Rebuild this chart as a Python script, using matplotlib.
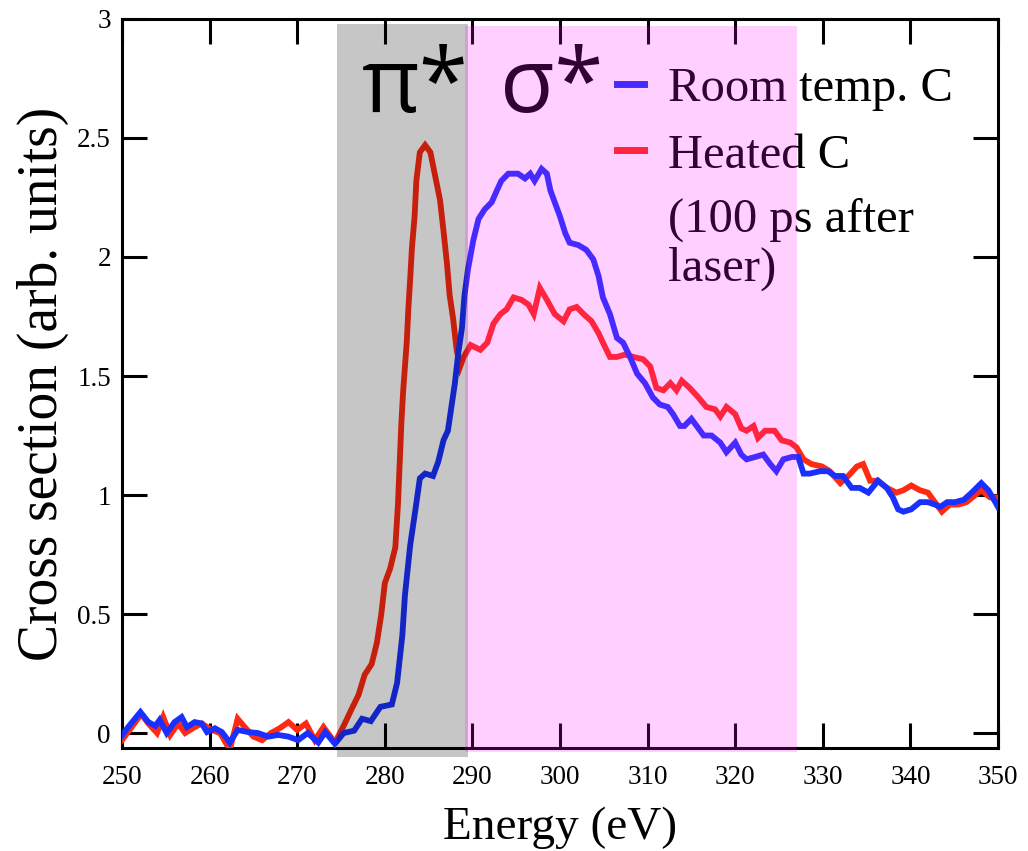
import numpy as np
import matplotlib.pyplot as plt
from matplotlib.patches import Rectangle
from matplotlib.ticker import FuncFormatter

# spectra (energy in eV, cross section in arb. units)
room_e = [250.0, 250.7, 252.1, 253.0, 253.8, 254.3, 255.1, 256.0, 256.8, 257.4,
          258.3, 259.1, 259.7, 260.6, 261.4, 262.3, 263.2, 264.4, 265.5, 266.7,
          267.8, 269.0, 270.1, 271.2, 272.4, 273.2, 274.3, 275.3, 276.5, 277.4,
          278.4, 279.5, 280.8, 281.4, 282.0, 282.3, 282.9, 283.5, 284.0, 284.6,
          285.5, 286.1, 286.7, 287.2, 287.6, 288.0, 288.4, 288.8, 289.1, 289.5,
          290.1, 290.7, 291.4, 292.2, 292.8, 293.3, 294.1, 295.2, 296.0, 296.6,
          297.1, 297.9, 298.5, 298.9, 299.4, 300.0, 300.6, 301.1, 302.1, 303.0,
          303.8, 304.4, 304.9, 305.7, 306.5, 307.2, 308.0, 308.8, 309.7, 310.6,
          311.4, 312.3, 312.9, 313.7, 314.2, 315.0, 315.8, 316.4, 317.3, 318.3,
          319.0, 320.0, 320.7, 321.3, 322.3, 323.2, 324.0, 324.7, 325.5, 326.5,
          327.2, 327.8, 328.5, 329.7, 330.6, 331.4, 332.3, 333.3, 334.2, 335.2,
          336.3, 337.3, 338.0, 338.6, 339.2, 340.1, 341.1, 342.0, 342.8, 343.4,
          344.2, 345.1, 346.1, 347.0, 348.1, 348.9, 349.7, 350.0]
room_val = [-0.01, 0.025, 0.088, 0.046, 0.03, 0.055, 0.0, 0.046, 0.067, 0.025,
            0.046, 0.04, 0.004, 0.02, 0.004, -0.04, 0.013, 0.004, 0.0, -0.015,
            -0.008, -0.015, -0.03, 0.0, -0.04, 0.004, -0.045, 0.0, 0.01, 0.06,
            0.05, 0.11, 0.12, 0.21, 0.41, 0.58, 0.79, 0.94, 1.07, 1.09,
            1.08, 1.14, 1.23, 1.27, 1.37, 1.47, 1.60, 1.70, 1.84, 1.95,
            2.07, 2.16, 2.20, 2.23, 2.28, 2.32, 2.35, 2.35, 2.33, 2.35,
            2.32, 2.37, 2.35, 2.28, 2.23, 2.17, 2.10, 2.06, 2.05, 2.03,
            1.99, 1.92, 1.83, 1.76, 1.66, 1.64, 1.58, 1.51, 1.47, 1.41,
            1.38, 1.37, 1.34, 1.29, 1.29, 1.32, 1.28, 1.25, 1.25, 1.22,
            1.18, 1.22, 1.17, 1.15, 1.16, 1.17, 1.13, 1.10, 1.15, 1.16,
            1.16, 1.09, 1.09, 1.10, 1.10, 1.08, 1.08, 1.03, 1.03, 1.01,
            1.06, 1.03, 0.99, 0.94, 0.93, 0.94, 0.97, 0.97, 0.96, 0.95,
            0.97, 0.97, 0.98, 1.01, 1.05, 1.02, 0.97, 0.95]

heated_e = [250.0, 251.0, 252.2, 253.0, 254.0, 254.7, 255.5, 256.4, 257.2, 258.3,
            259.1, 260.2, 261.2, 262.3, 263.2, 264.0, 265.0, 266.0, 267.0, 268.0,
            269.0, 270.0, 271.0, 272.0, 273.0, 274.3, 275.3, 276.2, 277.0, 277.7,
            278.5, 279.1, 279.6, 280.0, 280.6, 281.2, 281.5, 281.7, 281.9, 282.1,
            282.5, 282.7, 282.9, 283.1, 283.4, 283.6, 284.0, 284.6, 285.2, 285.7,
            286.3, 286.7, 287.1, 287.4, 287.8, 288.2, 288.6, 289.0, 289.8, 290.9,
            291.7, 292.4, 293.2, 293.9, 294.7, 295.6, 296.4, 297.0, 297.7, 298.5,
            299.4, 300.4, 301.1, 301.9, 302.7, 303.6, 304.4, 304.9, 305.7, 306.5,
            307.4, 308.4, 309.5, 310.3, 311.0, 311.8, 312.6, 313.3, 313.9, 314.8,
            315.8, 316.7, 317.7, 318.3, 319.0, 320.0, 320.7, 321.3, 322.1, 322.6,
            323.4, 324.5, 325.3, 326.3, 327.0, 327.8, 328.7, 329.9, 330.8, 332.0,
            332.9, 333.9, 334.6, 335.4, 336.3, 337.3, 338.4, 339.2, 340.1, 341.1,
            342.0, 342.8, 343.6, 344.5, 345.5, 346.4, 347.4, 348.1, 349.1, 350.0]
heated_val = [-0.03, 0.02, 0.08, 0.04, 0.0, 0.067, -0.008, 0.04, 0.0, 0.025,
              0.04, 0.013, 0.0, -0.07, 0.06, 0.025, -0.015, -0.03, 0.0, 0.02,
              0.046, 0.013, 0.04, -0.03, 0.025, -0.04, 0.03, 0.10, 0.16, 0.245,
              0.29, 0.38, 0.50, 0.63, 0.69, 0.78, 0.96, 1.13, 1.31, 1.44,
              1.64, 1.79, 1.91, 2.04, 2.17, 2.32, 2.44, 2.47, 2.44, 2.35,
              2.24, 2.11, 1.97, 1.84, 1.74, 1.61, 1.54, 1.58, 1.63, 1.61,
              1.64, 1.72, 1.76, 1.78, 1.83, 1.82, 1.80, 1.76, 1.87, 1.82,
              1.76, 1.73, 1.78, 1.79, 1.76, 1.73, 1.68, 1.64, 1.58, 1.58,
              1.59, 1.58, 1.57, 1.54, 1.45, 1.44, 1.47, 1.44, 1.48, 1.45,
              1.41, 1.37, 1.36, 1.33, 1.37, 1.34, 1.28, 1.27, 1.29, 1.24,
              1.27, 1.27, 1.23, 1.22, 1.20, 1.15, 1.13, 1.12, 1.10, 1.05,
              1.08, 1.12, 1.13, 1.06, 1.06, 1.03, 1.01, 1.02, 1.04, 1.02,
              1.01, 0.97, 0.93, 0.96, 0.96, 0.97, 1.00, 1.02, 0.99, 0.99]

labels = ['Room temp. C', 'Heated C']
note = '(100 ps after\nlaser)'
pi_band = (274.5, 289.55)
sigma_band = (289.15, 327.0)

serif = ['Liberation Serif', 'DejaVu Serif']
plt.rcParams['font.family'] = serif

fig = plt.figure(figsize=(10.28, 8.51), dpi=100)
ax = fig.add_axes([0.1187, 0.121, 0.8521, 0.8567])

red = '#ff2a12'
blue = '#1a30ff'
ax.plot(heated_e, heated_val, color=red, lw=4.2, solid_joinstyle='miter', label=labels[1], zorder=3)
ax.plot(room_e, room_val, color=blue, lw=4.2, solid_joinstyle='miter', label=labels[0], zorder=4)

ax.set_xlim(250, 350)
ax.set_ylim(-0.063, 3.0)
ax.set_xticks(np.arange(250, 351, 10))
ax.set_yticks(np.arange(0, 3.01, 0.5))
ax.yaxis.set_major_formatter(FuncFormatter(lambda v, p: ('%g' % v)))
ax.tick_params(direction='in', length=18, width=2.2, top=True, right=True,
               labelsize=19.5)
ax.tick_params(axis='x', pad=12)
ax.tick_params(axis='y', pad=8)
for s in ax.spines.values():
    s.set_linewidth(2.2)

ax.set_xlabel('Energy (eV)', fontsize=34, labelpad=12)
ax.set_ylabel('Cross section (arb. units)', fontsize=40, labelpad=6)

# legend, with the wrapped part of the second label set underneath
h, l = ax.get_legend_handles_labels()
leg = ax.legend(h[::-1], l[::-1], loc='upper left', bbox_to_anchor=(0.565, 0.934),
                frameon=False, fontsize=35, handlelength=0.55, handletextpad=0.5,
                borderpad=0, borderaxespad=0, labelspacing=0.46)
leg.set_zorder(5)
for line in leg.get_lines():
    line.set_linewidth(5)
ax.text(312.3, 2.25, note, fontsize=35, ha='left', va='top', linespacing=1.15,
        zorder=5)

# band labels
ax.text(277.4, 2.61, 'π*', fontsize=64, family=['Open Sans', 'DejaVu Sans'],
        ha='left', va='baseline', zorder=5)
ax.text(293.1, 2.61, 'σ*', fontsize=64, family=['Open Sans', 'DejaVu Sans'],
        ha='left', va='baseline', zorder=5)

# translucent shading over everything, running past the frame a little
ax.add_patch(Rectangle((pi_band[0], -0.1), pi_band[1] - pi_band[0], 3.08,
                       facecolor='black', alpha=0.224, lw=0, clip_on=False, zorder=10))
ax.add_patch(Rectangle((sigma_band[0], -0.08), sigma_band[1] - sigma_band[0], 3.05,
                       facecolor=(1.0, 0.08, 1.0), alpha=0.2, lw=0, clip_on=False, zorder=11))

fig.savefig('out.png', dpi=100)
